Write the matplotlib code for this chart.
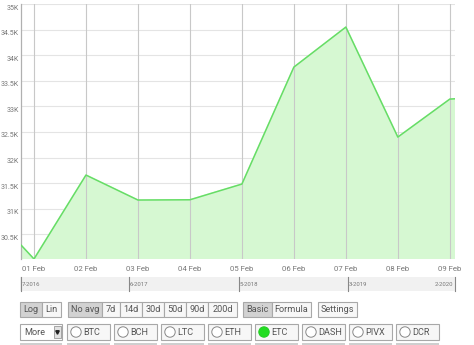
import numpy as np
import matplotlib
matplotlib.use("Agg")
import matplotlib.pyplot as plt
from matplotlib.patches import Rectangle, Circle
import matplotlib.transforms as mtransforms

plt.rcParams['font.family'] = ['Roboto', 'DejaVu Sans']

# data (day 0 = 01 Feb)
days = [-1, 0, 1, 2, 3, 4, 5, 6, 7, 8, 9]
values = [31110, 30018, 31658, 31170, 31175, 31482, 33767, 34549, 32400, 33142, 33200]
day_labels = ["01 Feb", "02 Feb", "03 Feb", "04 Feb", "05 Feb", "06 Feb", "07 Feb", "08 Feb", "09 Feb"]
y_ticks = [30500, 31000, 31500, 32000, 32500, 33000, 33500, 34000, 34500, 35000]
y_labels = ["30.5K", "31K", "31.5K", "32K", "32.5K", "33K", "33.5K", "34K", "34.5K", "35K"]

# range bar labels
range_labels = ["7-2016", "6-2017", "5-2018", "3-2019", "2-2020"]

# button rows
scale_buttons = ["Log", "Lin"]
avg_buttons = ["No avg", "7d", "14d", "30d", "50d", "90d", "200d"]
mode_buttons = ["Basic", "Formula"]
coins = ["BTC", "BCH", "LTC", "ETH", "ETC", "DASH", "PIVX", "DCR"]
selected_coin = "ETC"

W, H = 474, 345
fig = plt.figure(figsize=(W / 100, H / 100), dpi=100)

# main chart area in pixels: x 21..455, y 4..259
ax = fig.add_axes([21 / W, 1 - 259 / H, (455 - 21) / W, (259 - 4) / H])
ax.fill_between(days, values, 30018, color='#d6f8d2', zorder=1)
ax.plot(days, values, color='#66dd66', lw=1.1, zorder=3)
ax.set_xlim(-0.25, 8.1)
ax.set_ylim(30018, 35000)
ax.set_xticks(range(len(day_labels)))
ax.set_xticklabels(day_labels)
ax.set_yticks(y_ticks)
ax.set_yticklabels(y_labels)
ax.tick_params(length=0, labelsize=5.6, colors='#777777', pad=3)
ax.tick_params(axis='x', pad=5)
ax.tick_params(axis='y', labelsize=5.0, pad=1.5)
for lab in ax.get_yticklabels():
    lab.set_transform(lab.get_transform() + mtransforms.ScaledTranslation(0, -3 / 100, fig.dpi_scale_trans))
for y in y_ticks:
    ax.axhline(y, color='#e4e4e4', lw=0.8, zorder=0)
for d in range(len(day_labels)):
    ax.axvline(d, color='#c8c8c8', lw=0.8, zorder=2)
for s in ['top', 'right', 'bottom']:
    ax.spines[s].set_visible(False)
ax.spines['left'].set_color('#b0b0b0')
ax.spines['left'].set_linewidth(0.9)

# overlay for the controls, in pixel coordinates
ui = fig.add_axes([0, 0, 1, 1])
ui.set_xlim(0, W)
ui.set_ylim(H, 0)
ui.axis('off')
ui.patch.set_alpha(0)

# range selector bar
ui.add_patch(Rectangle((20, 277), 436, 14, facecolor='#f1f1f1', edgecolor='none'))
range_x = [21, 129, 239, 348, 455]
for i, (rx, lab) in enumerate(zip(range_x, range_labels)):
    ui.plot([rx, rx], [277, 291], color='#888888', lw=0.8)
    if i < len(range_labels) - 1:
        ui.text(rx + 1, 284.5, lab, fontsize=4.3, color='#777777', va='center', ha='left')
    else:
        ui.text(rx - 2, 284.5, lab, fontsize=4.3, color='#777777', va='center', ha='right')


def button(x0, x1, y0, y1, label, pressed=False, fs=6.6):
    ui.add_patch(Rectangle((x0, y0), x1 - x0, y1 - y0,
                           facecolor='#d2d2d2' if pressed else '#f7f7f7',
                           edgecolor='#a8a8a8', lw=0.8))
    ui.text((x0 + x1) / 2, (y0 + y1) / 2 + 0.5, label, fontsize=fs, color='#555555',
            ha='center', va='center')


r1 = (302, 317)
scale_x = [20, 42, 61]
for i, lab in enumerate(scale_buttons):
    button(scale_x[i], scale_x[i + 1], *r1, lab, pressed=(i == 0))
avg_x = [68, 102, 120, 142, 164, 186, 208, 237]
for i, lab in enumerate(avg_buttons):
    button(avg_x[i], avg_x[i + 1], *r1, lab, pressed=(i == 0))
mode_x = [243, 272, 311]
for i, lab in enumerate(mode_buttons):
    button(mode_x[i], mode_x[i + 1], *r1, lab, pressed=(i == 0))
button(318, 357, *r1, "Settings")

# "More" dropdown
ui.add_patch(Rectangle((20, 324), 42, 16, facecolor='white', edgecolor='#a8a8a8', lw=0.8))
ui.text(24, 332.5, "More", fontsize=6.6, color='#555555', va='center', ha='left')
ui.add_patch(Rectangle((54, 326), 7, 12, facecolor='#e2e2e2', edgecolor='#999999', lw=0.6))
ui.plot([57.5], [332], marker='v', ms=2.5, color='#222222')

for i, coin in enumerate(coins):
    x0 = 67 + 47 * i
    x1 = x0 + 43
    ui.add_patch(Rectangle((x0, 324), x1 - x0, 16, facecolor='#f7f7f7', edgecolor='#a8a8a8', lw=0.8))
    on = coin == selected_coin
    ui.add_patch(Circle((x0 + 9, 332), 5.2,
                        facecolor='#22dd22' if on else 'white',
                        edgecolor='#22cc22' if on else '#888888', lw=0.7))
    ui.text(x0 + 16, 332.5, coin, fontsize=6.6, color='#555555', va='center', ha='left')
    # top of the next row of buttons
    ui.add_patch(Rectangle((x0, 343), x1 - x0, 3, facecolor='#cfcfcf', edgecolor='none'))
ui.add_patch(Rectangle((20, 343), 42, 3, facecolor='#cfcfcf', edgecolor='none'))

fig.savefig("out.png", dpi=100)
